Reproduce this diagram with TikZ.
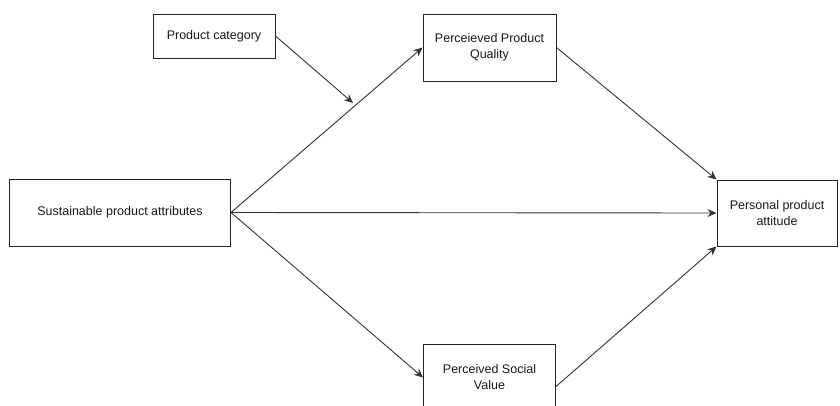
\documentclass[tikz,border=0pt]{standalone}
\usepackage{fontspec}
\setmainfont{Liberation Sans}
\usetikzlibrary{arrows.meta}
\begin{document}
\begin{tikzpicture}[x=1pt,y=-1pt,
  box/.style={draw=black!85, line width=1pt, fill=white, inner sep=0pt,
    align=center, text=black!90, font=\fontsize{12.5}{16}\selectfont},
  link/.style={draw=black!80, line width=0.9pt,
    -{Stealth[length=9pt,width=8pt,inset=3pt]}}]
\useasboundingbox (0,0) rectangle (840,405);

% boxes
\node[box, minimum width=122pt, minimum height=44pt] (cat) at (214,36) {Product category};
\node[box, minimum width=133pt, minimum height=67pt] (ppq) at (489.5,47.5) {Perceieved Product\\Quality};
\node[box, minimum width=221pt, minimum height=67pt] (spa) at (120,212.5) {Sustainable product attributes};
\node[box, minimum width=120pt, minimum height=66pt] (ppa) at (777,213) {Personal product\\attitude};
\node[box, minimum width=132pt, minimum height=67pt] (psv) at (489.5,377.5) {Perceived Social\\Value};

% moderator pointing at the upper path
\coordinate (mod) at (353,103);

% connectors
\draw[link] (cat.east) -- (mod);
\draw[link] (spa.east) -- (ppq.west);
\draw[link] (spa.east) -- (ppa.west);
\draw[link] (spa.east) -- (psv.west);
\draw[link] (ppq.east) -- (ppa.north west);
\draw[link] ([yshift=-9pt]psv.east) -- (ppa.south west);
\end{tikzpicture}
\end{document}
